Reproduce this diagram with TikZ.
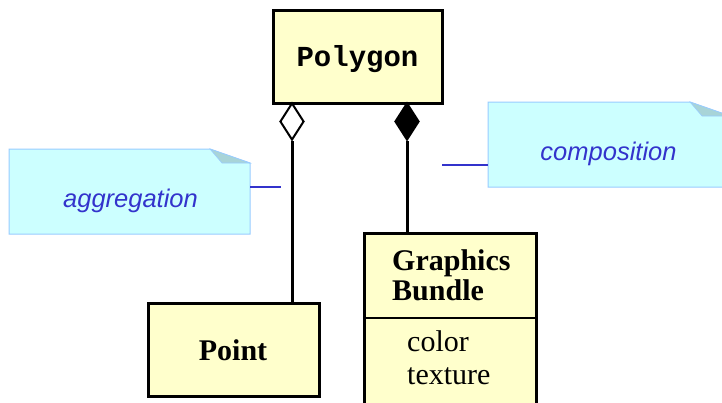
\documentclass[tikz,border=0pt]{standalone}
\usepackage{fontspec}
\setmainfont{Liberation Serif}
\setsansfont{Liberation Sans}
\setmonofont{Liberation Mono}
\usetikzlibrary{shapes.geometric}
\definecolor{boxfill}{HTML}{FFFFCC}
\definecolor{notefill}{HTML}{CCFFFF}
\definecolor{noteline}{HTML}{99CCFF}
\definecolor{foldfill}{HTML}{A8D4D8}
\definecolor{notetext}{HTML}{3333CC}
\begin{document}
\begin{tikzpicture}[x=1pt,y=-1pt,
 classbox/.style={draw=black,line width=3pt,fill=boxfill,inner sep=0pt},
 notebox/.style={draw=noteline,line width=1pt,fill=notefill},
 foldtri/.style={fill=foldfill,draw=noteline,line width=0.6pt},
 notetxt/.style={font=\fontsize{25.5}{30}\selectfont\sffamily\itshape,text=notetext,inner sep=0pt,anchor=base},
 classtxt/.style={font=\fontsize{30}{30}\selectfont\bfseries,inner sep=0pt},
 attrtxt/.style={font=\fontsize{30}{30}\selectfont,inner sep=0pt,anchor=base west},
 link/.style={line width=3pt},
 anchorline/.style={draw=notetext,line width=2pt},
 dia/.style={diamond,draw=black,line width=2pt,minimum width=24pt,minimum height=37pt,inner sep=0pt}
]
\useasboundingbox (0,0) rectangle (722,402);
\fill[white] (0,0) rectangle (722,402);
\clip (0,0) rectangle (722,402);

% class boxes
\node[classbox,minimum width=169pt,minimum height=93pt] (poly) at (357.5,56.5) {};
\node[font=\fontsize{29}{30}\selectfont\ttfamily\bfseries,inner sep=0pt,anchor=base] (polyt) at (357.5,66) {Polygon};

\node[classbox,minimum width=171pt,minimum height=93pt] (point) at (233.5,349.5) {};
\node[classtxt,anchor=base] (pointt) at (233,360) {Point};

\node[classbox,minimum width=172pt,minimum height=190pt] (gfx) at (450,328) {};
\coordinate (divL) at (364,318);
\coordinate (divR) at (536,318);
\draw[line width=2pt] (divL) -- (divR);
\node[classtxt,anchor=base west] (gfx1) at (392,270) {Graphics};
\node[classtxt,anchor=base west] (gfx2) at (392,300) {Bundle};
\node[attrtxt] (attr1) at (407,351) {color};
\node[attrtxt] (attr2) at (407,384) {texture};

% diamonds and links
\node[dia,fill=white] (dagg) at (292,121.5) {};
\node[dia,fill=black] (dcomp) at (407,121.5) {};
\draw[link] (dagg.south) -- (dagg.south |- point.north);
\draw[link] (dcomp.south) -- (dcomp.south |- gfx.north);

% aggregation note
\path[notebox] (9,149) -- (210,149) -- (250,163) -- (250,234) -- (9,234) -- cycle;
\path[foldtri] (210,149) -- (222,163) -- (250,163) -- cycle;
\node[notetxt] (aggr) at (130.5,207) {aggregation};
\coordinate (aggrA) at (250,187);
\coordinate (aggrB) at (281,187);
\draw[anchorline] (aggrA) -- (aggrB);

% composition note
\path[notebox] (488,102) -- (690,102) -- (730,116) -- (730,187) -- (488,187) -- cycle;
\path[foldtri] (690,102) -- (702,116) -- (730,116) -- cycle;
\node[notetxt] (comp) at (608.5,160) {composition};
\coordinate (compA) at (488,164.5);
\coordinate (compB) at (442,164.5);
\draw[anchorline] (compA) -- (compB);
\end{tikzpicture}
\end{document}
